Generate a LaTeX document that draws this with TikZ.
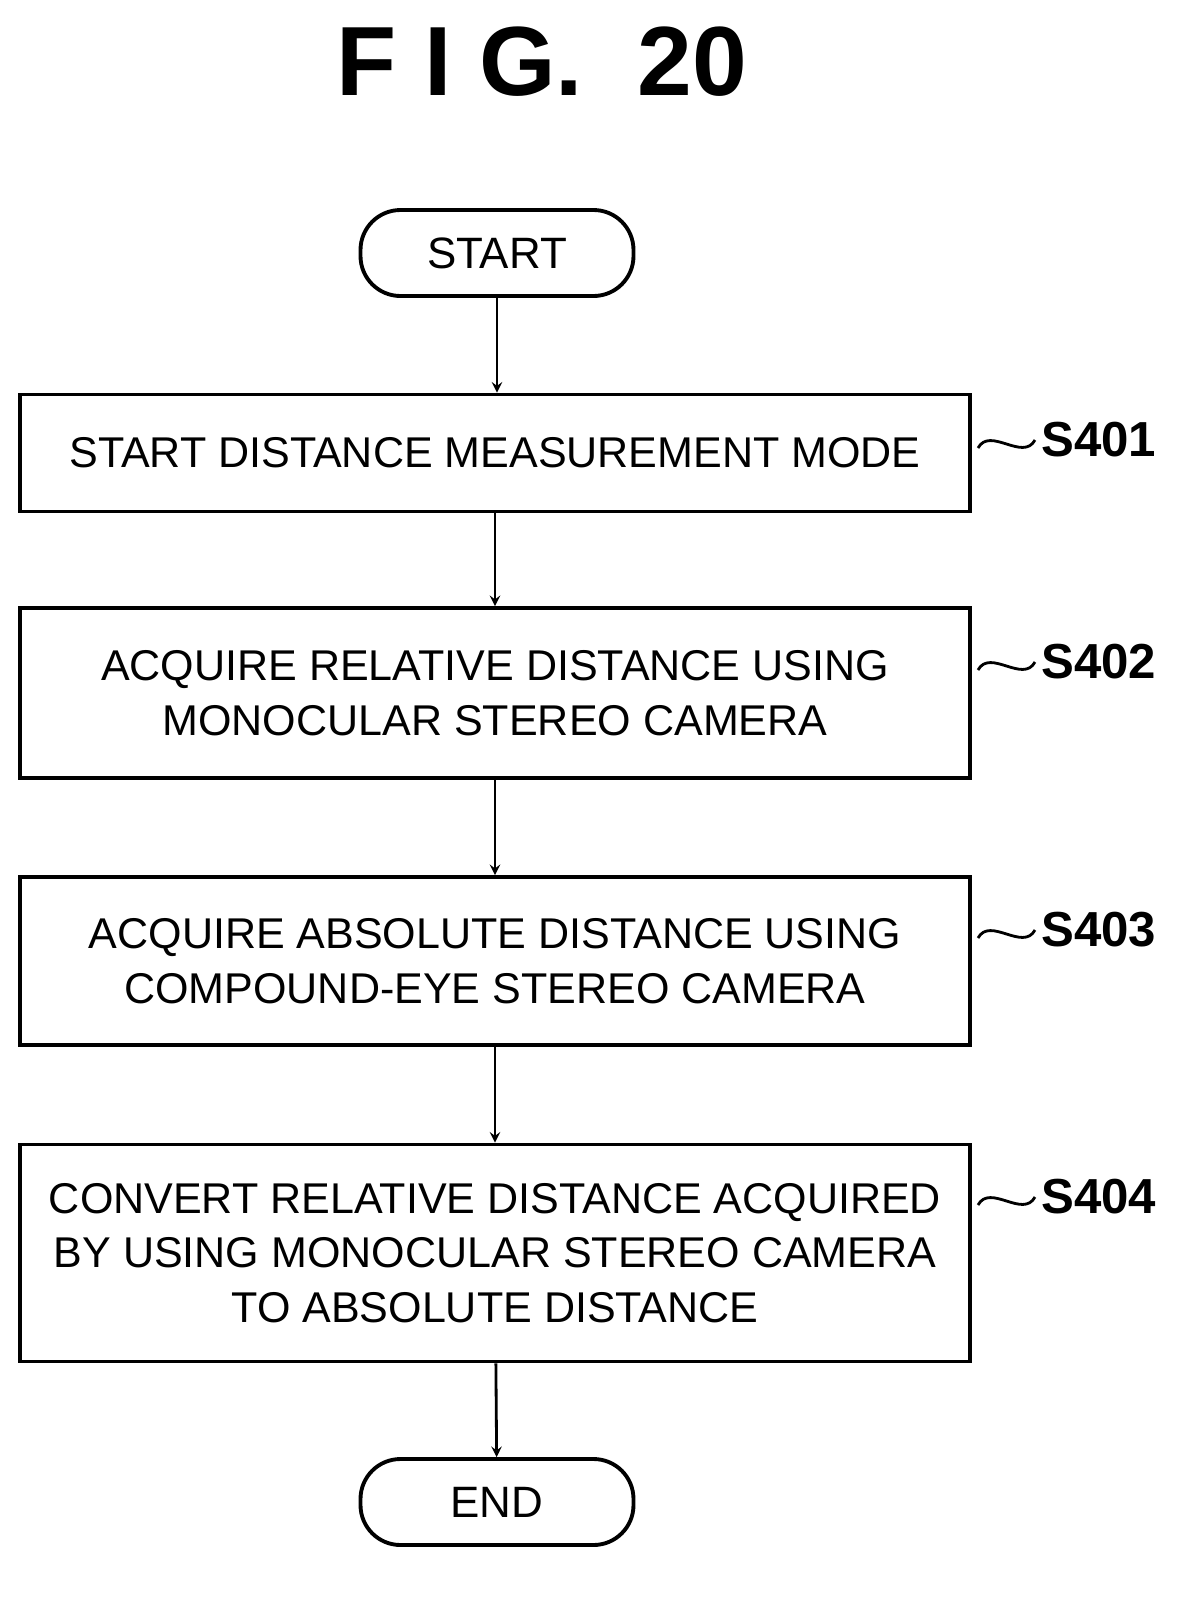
\documentclass[tikz,border=0pt]{standalone}
\usepackage{fontspec}
\setmainfont{Liberation Sans}
\usetikzlibrary{positioning}
\tikzset{
  stepbox/.style={draw,line width=2.2pt,inner sep=0pt,minimum width=950*0.02cm,align=center,font=\fontsize{24.5}{31}\selectfont},
  term/.style={draw,line width=2.2pt,inner sep=0pt,rounded corners=40*0.02cm,minimum width=273*0.02cm,minimum height=86*0.02cm,font=\fontsize{25}{31}\selectfont},
  flow/.style={->,line width=1.6pt,>=stealth},
  steplabel/.style={font=\bfseries\fontsize{28}{32}\selectfont,anchor=west}
}
\begin{document}
\begin{tikzpicture}[x=0.02cm,y=-0.02cm]
\useasboundingbox (0,0) rectangle (1202,1597);
\node[font=\bfseries\fontsize{56}{60}\selectfont] (title) at (542,62) {F I G.\ \ 20};

% the flow
\node[term] (start) at (497,253) {START};
\node[stepbox,minimum height=117*0.02cm] (s401) at (495,453) {START DISTANCE MEASUREMENT MODE};
\node[stepbox,minimum height=170*0.02cm] (s402) at (495,693) {ACQUIRE RELATIVE DISTANCE USING\\MONOCULAR STEREO CAMERA};
\node[stepbox,minimum height=168*0.02cm] (s403) at (495,961) {ACQUIRE ABSOLUTE DISTANCE USING\\COMPOUND-EYE STEREO CAMERA};
\node[stepbox,minimum height=217*0.02cm] (s404) at (495,1253) {CONVERT RELATIVE DISTANCE ACQUIRED\\BY USING MONOCULAR STEREO CAMERA\\TO ABSOLUTE DISTANCE};
\node[term] (end) at (497,1502) {END};

\draw[flow] (start) -- (start |- s401.north);
\draw[flow] (s401) -- (s402);
\draw[flow] (s402) -- (s403);
\draw[flow] (s403) -- (s404);
\draw[flow] (s404) -- (end);

% step labels
\foreach \b/\t/\y in {s401/S401/440,s402/S402/662,s403/S403/930,s404/S404/1197} {
  \coordinate (w\b) at (978,\y+8);
  \node[steplabel] (n\b) at (1035,\y) {\t};
  \draw[line width=1.6pt] (w\b) .. controls +(12,-22) and +(-12,22) .. (n\b.west);
}
\end{tikzpicture}
\end{document}
